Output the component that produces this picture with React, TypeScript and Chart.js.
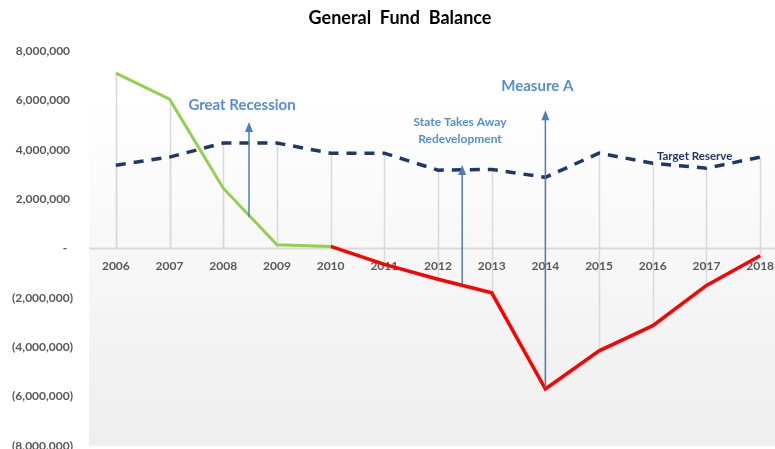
import React, { useEffect, useRef } from 'react';
import { Chart, registerables } from 'chart.js';

Chart.register(...registerables);

const years = ['2006', '2007', '2008', '2009', '2010', '2011', '2012', '2013', '2014', '2015', '2016', '2017', '2018'];
const fundBalanceDecline = [7100000, 6050000, 2440000, 150000, 80000, null, null, null, null, null, null, null, null];
const fundBalanceDeficit = [null, null, null, null, 80000, -650000, -1250000, -1800000, -5700000, -4150000, -3130000, -1500000, -300000];
const targetReserve = [3370000, 3700000, 4270000, 4270000, 3860000, 3860000, 3170000, 3200000, 2880000, 3860000, 3450000, 3250000, 3700000];
const yMin = -8000000;
const yMax = 8000000;
const yStep = 2000000;

// annotation arrows: category position, value at tail, value at head
const arrowAt = [2.48, 6.45, 8];
const arrowFrom = [1270000, -1450000, -5650000];
const arrowTo = [5120000, 3380000, 5600000];

// annotation texts
const noteTexts = [['Great Recession'], ['State Takes Away', 'Redevelopment'], ['Measure A'], ['Target Reserve']];
const noteAt = [2.35, 6.41, 7.85, 10.78];
const noteValue = [5800000, 5100000, 6570000, 3730000];

const FONT = 'Lato, "Open Sans", sans-serif';
const noteStyle = [
  { size: 15, color: '#558ed5', lh: 17 },
  { size: 12, color: '#558ed5', lh: 17 },
  { size: 15, color: '#558ed5', lh: 17 },
  { size: 11.5, color: '#1f3864', lh: 14 },
];

function fmt(v: number): string {
  if (v === 0) return '-  ';
  const s = Math.abs(v).toLocaleString('en-US');
  return v < 0 ? `(${s})` : `${s} `;
}

const decorPlugin = {
  id: 'decor',
  beforeDraw(chart: any) {
    const { ctx, chartArea } = chart;
    const { left, right, bottom } = chartArea;
    const top = 95;
    ctx.save();
    const g = ctx.createLinearGradient(0, top, 0, bottom);
    g.addColorStop(0, '#ffffff');
    g.addColorStop(1, '#eeeeee');
    ctx.fillStyle = g;
    ctx.fillRect(left, top, right - left, bottom - top);
    // title
    ctx.fillStyle = '#000000';
    ctx.font = `bold 18px ${FONT}`;
    ctx.textAlign = 'center';
    ctx.textBaseline = 'middle';
    ctx.fillText('General  Fund  Balance', 400, 18);
    ctx.restore();
  },
  beforeDatasetsDraw(chart: any) {
    const { ctx, chartArea, scales } = chart;
    const xs = scales.x;
    const ys = scales.y;
    const y0 = ys.getPixelForValue(0);
    ctx.save();
    // drop lines
    ctx.strokeStyle = '#d9d9d9';
    ctx.lineWidth = 1.5;
    chart.data.datasets.forEach((ds: any) => {
      ds.data.forEach((v: number | null, i: number) => {
        if (v === null || v === undefined) return;
        const x = Math.round(xs.getPixelForValue(i)) + 0.5;
        ctx.beginPath();
        ctx.moveTo(x, ys.getPixelForValue(v));
        ctx.lineTo(x, y0);
        ctx.stroke();
      });
    });
    // zero axis
    ctx.strokeStyle = '#d9d9d9';
    ctx.lineWidth = 2;
    ctx.beginPath();
    ctx.moveTo(chartArea.left, y0);
    ctx.lineTo(chartArea.right, y0);
    ctx.stroke();
    // category labels
    ctx.fillStyle = '#595959';
    ctx.font = `bold 12px ${FONT}`;
    ctx.textAlign = 'center';
    ctx.textBaseline = 'middle';
    years.forEach((lab, i) => {
      ctx.fillText(lab, xs.getPixelForValue(i), y0 + 18);
    });
    ctx.restore();
  },
  afterDatasetsDraw(chart: any) {
    const { ctx, scales } = chart;
    const xs = scales.x;
    const ys = scales.y;
    ctx.save();
    // arrows
    ctx.strokeStyle = '#4a7ebb';
    ctx.fillStyle = '#4a7ebb';
    ctx.lineWidth = 1.5;
    arrowAt.forEach((a, i) => {
      const x = xs.getPixelForValue(a);
      const yA = ys.getPixelForValue(arrowFrom[i]);
      const yB = ys.getPixelForValue(arrowTo[i]);
      ctx.beginPath();
      ctx.moveTo(x, yA);
      ctx.lineTo(x, yB + 8);
      ctx.stroke();
      ctx.beginPath();
      ctx.moveTo(x, yB);
      ctx.lineTo(x - 4, yB + 10);
      ctx.lineTo(x + 4, yB + 10);
      ctx.closePath();
      ctx.fill();
    });
    // notes
    ctx.textAlign = 'center';
    ctx.textBaseline = 'middle';
    noteTexts.forEach((lines, i) => {
      const st = noteStyle[i];
      ctx.font = `bold ${st.size}px ${FONT}`;
      ctx.fillStyle = st.color;
      const x = xs.getPixelForValue(noteAt[i]);
      const y = ys.getPixelForValue(noteValue[i]);
      lines.forEach((ln, k) => ctx.fillText(ln, x, y + k * st.lh));
    });
    ctx.restore();
  },
};

export default function App() {
  const ref = useRef<HTMLCanvasElement | null>(null);
  useEffect(() => {
    if (!ref.current) return;
    const chart = new Chart(ref.current, {
      type: 'line',
      data: {
        labels: years,
        datasets: [
          {
            label: 'Fund Balance',
            data: fundBalanceDecline,
            borderColor: '#92d050',
            borderWidth: 3,
            pointRadius: 0,
            spanGaps: false,
            tension: 0,
          },
          {
            label: 'Fund Balance Deficit',
            data: fundBalanceDeficit,
            borderColor: '#ff0000',
            borderWidth: 3.5,
            pointRadius: 0,
            spanGaps: false,
            tension: 0,
          },
          {
            label: 'Target Reserve',
            data: targetReserve,
            borderColor: '#1f3864',
            borderWidth: 3.5,
            borderDash: [10, 8],
            pointRadius: 0,
            tension: 0,
          },
        ],
      },
      options: {
        animation: false,
        responsive: true,
        maintainAspectRatio: false,
        layout: { padding: { top: 51, left: 0, right: 13, bottom: 0 } },
        plugins: { legend: { display: false }, tooltip: { enabled: false }, title: { display: false } },
        scales: {
          x: { display: false, offset: true },
          y: {
            min: yMin,
            max: yMax,
            grid: { display: false },
            border: { display: false },
            ticks: {
              stepSize: yStep,
              padding: 8,
              color: '#595959',
              font: { family: FONT, size: 12, weight: 'bold' },
              callback: (v: any) => fmt(Number(v)),
            },
            afterFit: (s: any) => {
              s.width = 89;
            },
          },
        },
      },
      plugins: [decorPlugin],
    } as any);
    return () => chart.destroy();
  }, []);
  return (
    <div style={{ position: 'absolute', left: 0, top: 0, width: 775, height: 449, overflow: 'hidden', background: '#ffffff' }}>
      <div style={{ position: 'relative', width: 800, height: 461 }}>
        <canvas ref={ref} />
      </div>
    </div>
  );
}
